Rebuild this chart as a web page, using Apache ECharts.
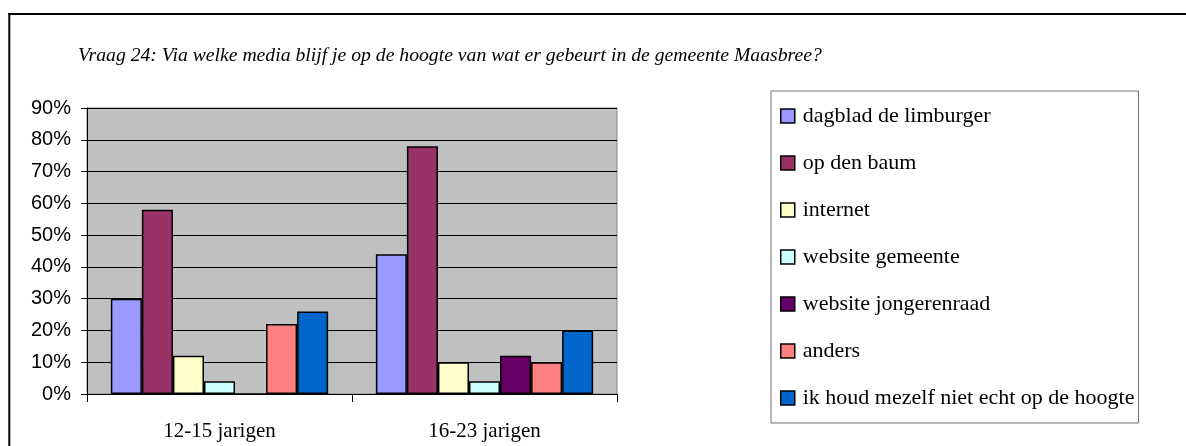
<!DOCTYPE html>
<html>
<head>
<meta charset="utf-8">
<script src="https://cdn.jsdelivr.net/npm/echarts@6/dist/echarts.min.js"></script>
<style>
  html, body { margin: 0; padding: 0; background: #fff; }
  #main { width: 1186px; height: 446px; }
</style>
</head>
<body>
<div id="main"></div>
<script>
// leeftijdsgroepen
var categories = ['12-15 jarigen', '16-23 jarigen'];
// media (legenda)
var media = ['dagblad de limburger', 'op den baum', 'internet', 'website gemeente',
             'website jongerenraad', 'anders', 'ik houd mezelf niet echt op de hoogte'];
// percentages per medium: [12-15, 16-23]
var dagblad = [30, 44];
var opDenBaum = [58, 78];
var internet = [12, 10];
var websiteGemeente = [4, 4];
var websiteJongerenraad = [0, 12];
var anders = [22, 10];
var ikHoudNiet = [26, 20];
var yTicks = [0, 10, 20, 30, 40, 50, 60, 70, 80, 90];

var values = [dagblad, opDenBaum, internet, websiteGemeente, websiteJongerenraad, anders, ikHoudNiet];
var colors = ['#9999FF', '#993366', '#FFFFCC', '#CCFFFF', '#660066', '#FF8080', '#0066CC'];

var serif = '"Liberation Serif", "Times New Roman", serif';
var sans = '"Liberation Sans", Arial, sans-serif';

var series = [];
for (var i = 0; i < media.length; i++) {
    series.push({
        name: media[i],
        type: 'bar',
        data: values[i],
        barGap: 0,
        barCategoryGap: '18%',
        itemStyle: { color: colors[i], borderColor: '#000', borderWidth: 1.5 }
    });
}

var myChart = echarts.init(document.getElementById('main'));
var option = {
    animation: false,
    backgroundColor: '#fff',
    title: {
        text: 'Vraag 24: Via welke media blijf je op de hoogte van wat er gebeurt in de gemeente Maasbree?',
        left: 78,
        top: 46,
        padding: 0,
        textStyle: { fontFamily: serif, fontStyle: 'italic', fontWeight: 'normal', fontSize: 19.7, color: '#000' }
    },
    graphic: [
        { type: 'line', shape: { x1: 8, y1: 14, x2: 1186, y2: 14 }, style: { stroke: '#000', lineWidth: 2 } },
        { type: 'line', shape: { x1: 9.3, y1: 13, x2: 9.3, y2: 446 }, style: { stroke: '#000', lineWidth: 2 } }
    ],
    legend: {
        orient: 'vertical',
        left: 771,
        top: 91,
        data: media,
        icon: 'rect',
        itemWidth: 14,
        itemHeight: 14,
        itemGap: 25,
        padding: [14, 4, 14, 9],
        backgroundColor: '#fff',
        borderColor: '#707070',
        borderWidth: 1,
        itemStyle: { borderColor: '#000', borderWidth: 1.5 },
        textStyle: { fontFamily: serif, fontSize: 22, color: '#000', lineHeight: 21, padding: [0, 0, 0, 3] }
    },
    grid: {
        left: 87,
        right: 569,
        top: 108,
        bottom: 52,
        show: true,
        backgroundColor: '#C0C0C0',
        borderColor: '#808080',
        borderWidth: 1
    },
    xAxis: {
        type: 'category',
        data: categories,
        axisLine: { lineStyle: { color: '#000', width: 1 } },
        axisTick: { show: true, length: 8, lineStyle: { color: '#000' } },
        axisLabel: { fontFamily: serif, fontSize: 21, color: '#000', margin: 27 }
    },
    yAxis: {
        type: 'value',
        min: yTicks[0],
        max: yTicks[yTicks.length - 1],
        interval: 10,
        axisLine: { show: true, lineStyle: { color: '#000', width: 1 } },
        axisTick: { show: true, length: 6, lineStyle: { color: '#000' } },
        axisLabel: { fontFamily: sans, fontSize: 20, color: '#000', margin: 16, formatter: '{value}%' },
        splitLine: { show: true, lineStyle: { color: '#000', width: 1 } }
    },
    series: series
};
myChart.setOption(option);
</script>
</body>
</html>
